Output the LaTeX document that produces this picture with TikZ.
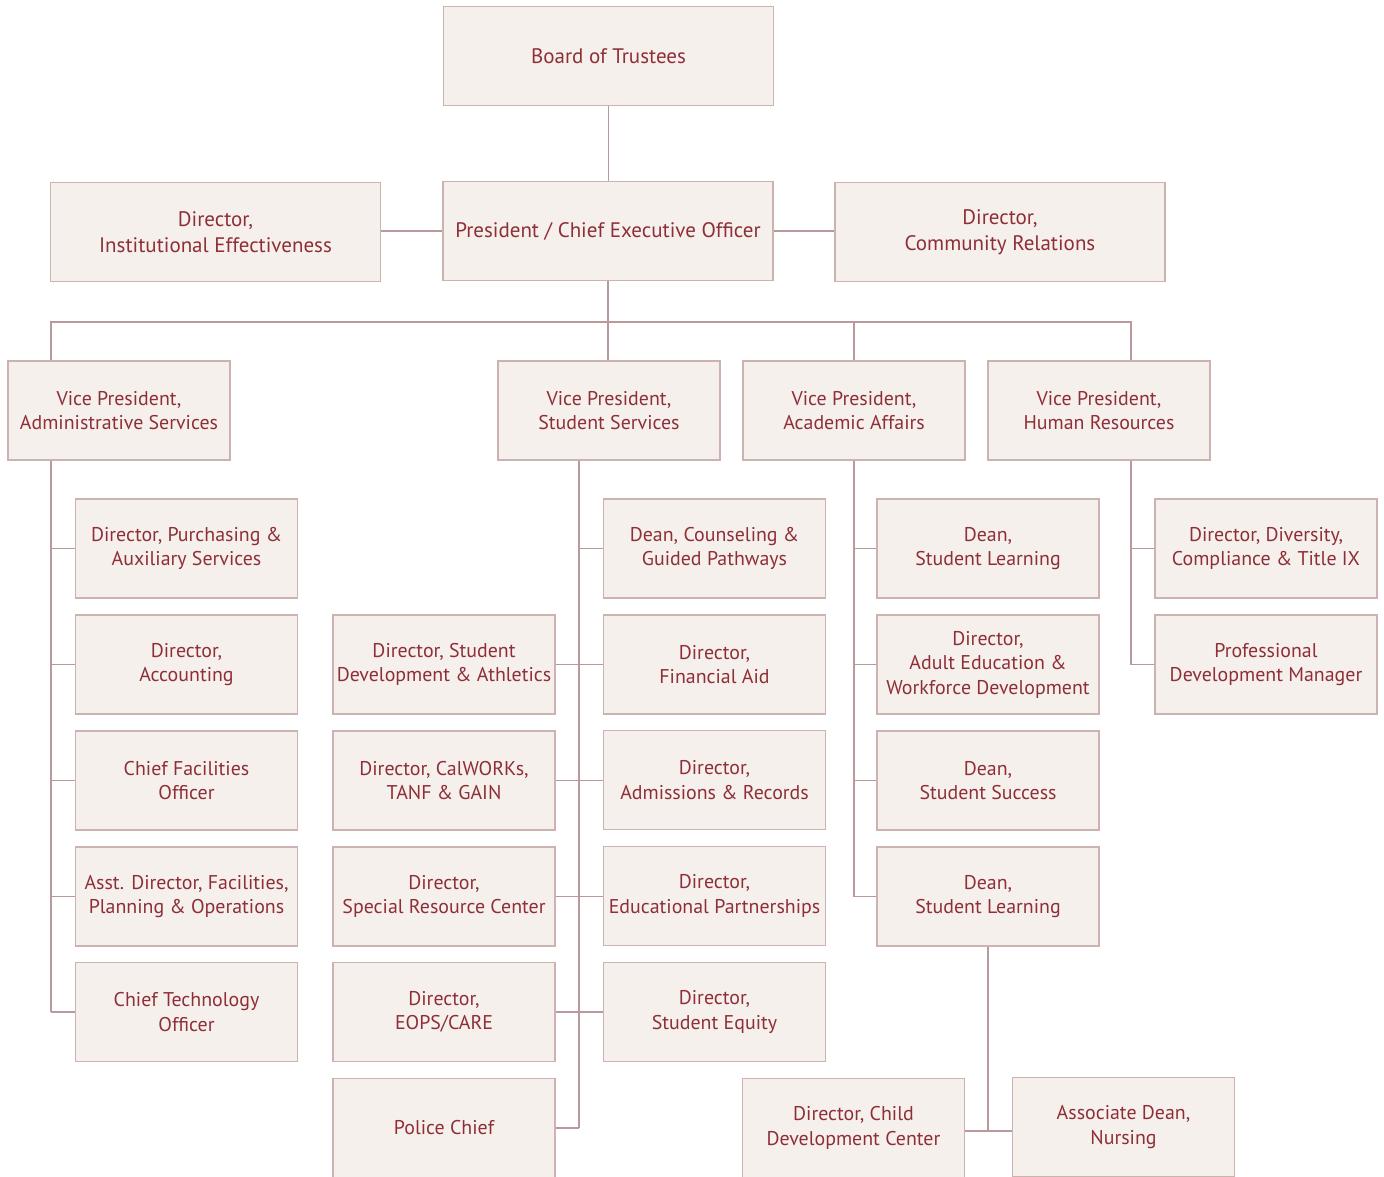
\documentclass[tikz,border=0pt]{standalone}
\usepackage{fontspec}
\setmainfont{PT Sans}
\usetikzlibrary{calc}
\definecolor{boxfill}{HTML}{F6F0ED}
\definecolor{boxline}{HTML}{CDB2B2}
\definecolor{txt}{HTML}{8E2F37}
\definecolor{conn}{HTML}{B9999C}
\begin{document}
\begin{tikzpicture}[x=1pt,y=-1pt,
  org/.style={draw=boxline,fill=boxfill,line width=1.1pt,text=txt,align=center,
    minimum width=222pt,minimum height=99pt,inner sep=0pt,
    font=\fontsize{19.9}{24.5}\selectfont},
  wide/.style={org,minimum width=330pt,font=\fontsize{21}{25.5}\selectfont},
  link/.style={draw=conn,line width=1.1pt}]
\clip (0,0) rectangle (1384,1177);
\fill[white] (0,0) rectangle (1384,1177);
% top
\node[wide] (board) at (608.5,56) {Board of Trustees};
\node[wide] (pres) at (608,231) {President / Chief Executive Officer};
\node[wide] (ie) at (215.5,232) {Director,\\Institutional Effectiveness};
\node[wide] (cr) at (1000,232) {Director,\\Community Relations};
% VPs
\node[org] (vpa) at (119,410.5) {Vice President,\\Administrative Services};
\node[org] (vps) at (609,410.5) {Vice President,\\Student Services};
\node[org] (vpaa) at (854,410.5) {Vice President,\\Academic Affairs};
\node[org] (vphr) at (1099,410.5) {Vice President,\\Human Resources};
% admin
\node[org] (purch) at (186.5,548.5) {Director, Purchasing \&\\Auxiliary Services};
\node[org] (acct) at (186.5,664.5) {Director,\\Accounting};
\node[org] (cfo) at (186.5,780.5) {Chief Facilities\\Officer};
\node[org] (asst) at (186.5,896.5) {Asst. Director, Facilities,\\Planning \& Operations};
\node[org] (cto) at (186.5,1012) {Chief Technology\\Officer};
% student services left
\node[org] (dev) at (444,664.5) {Director, Student\\Development \& Athletics};
\node[org] (calw) at (444,780.5) {Director, CalWORKs,\\TANF \& GAIN};
\node[org] (src) at (444,896.5) {Director,\\Special Resource Center};
\node[org] (eops) at (444,1012) {Director,\\EOPS/CARE};
\node[org] (police) at (444,1128) {Police Chief};
% student services right
\node[org] (couns) at (714.5,548.5) {Dean, Counseling \&\\Guided Pathways};
\node[org] (finaid) at (714.5,664.5) {Director,\\Financial Aid};
\node[org] (adm) at (714.5,780) {Director,\\Admissions \& Records};
\node[org] (edp) at (714.5,896) {Director,\\Educational Partnerships};
\node[org] (equity) at (714.5,1012) {Director,\\Student Equity};
% academic affairs
\node[org] (dsl1) at (988,548.5) {Dean,\\Student Learning};
\node[org] (adult) at (988,664.5) {Director,\\Adult Education \&\\Workforce Development};
\node[org] (dss) at (988,780.5) {Dean,\\Student Success};
\node[org] (dsl2) at (988,896.5) {Dean,\\Student Learning};
\node[org] (child) at (853.5,1128) {Director, Child\\Development Center};
\node[org] (nurse) at (1123.5,1127) {Associate Dean,\\Nursing};
% HR
\node[org] (div) at (1266,548.5) {Director, Diversity,\\Compliance \& Title IX};
\node[org] (prof) at (1266,664.5) {Professional\\Development Manager};
% spine coordinates
\coordinate (sa) at (51,0);
\coordinate (ss) at (579,0);
\coordinate (saa) at (854,0);
\coordinate (shr) at (1131,0);
\coordinate (bus) at (0,322);
\coordinate (cj) at (0,1131);
% connectors top
\draw[link] (board.south) -- (board.south |- pres.north);
\draw[link] (ie.east |- pres.west) -- (pres.west);
\draw[link] (pres.east) -- (cr.west |- pres.east);
\draw[link] (pres.south) -- (pres.south |- vps.north);
\draw[link] (sa |- vpa.north) -- (sa |- bus) -- (shr |- bus) -- (shr |- vphr.north);
\draw[link] (vpaa.north) -- (vpaa.north |- bus);
% admin
\draw[link] (sa |- vpa.south) -- (sa |- cto.west);
\foreach \n in {purch,acct,cfo,asst,cto} \draw[link] (\n.west) -- (\n.west -| sa);
% student services
\draw[link] (ss |- vps.south) -- (ss |- police.east);
\draw[link] (couns.west) -- (couns.west -| ss);
\draw[link] (dev.east) -- (finaid.west |- dev.east);
\draw[link] (calw.east) -- (adm.west |- calw.east);
\draw[link] (src.east) -- (edp.west |- src.east);
\draw[link] (eops.east) -- (equity.west |- eops.east);
\draw[link] (police.east) -- (police.east -| ss);
% academic affairs
\draw[link] (saa |- vpaa.south) -- (saa |- dsl2.west);
\foreach \n in {dsl1,adult,dss,dsl2} \draw[link] (\n.west) -- (\n.west -| saa);
\draw[link] (dsl2.south) -- (dsl2.south |- cj);
\draw[link] (child.east |- cj) -- (nurse.west |- cj);
% HR
\draw[link] (shr |- vphr.south) -- (shr |- prof.west);
\foreach \n in {div,prof} \draw[link] (\n.west) -- (\n.west -| shr);
\end{tikzpicture}
\end{document}
